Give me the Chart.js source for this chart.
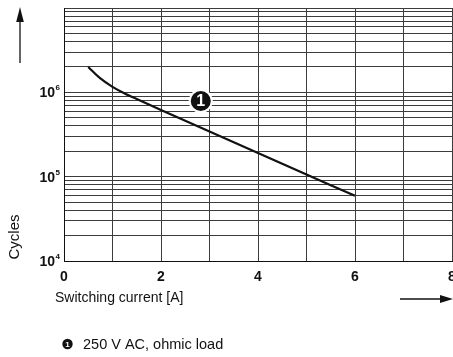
<!DOCTYPE html>
<html>
<head>
<meta charset="utf-8">
<script src="https://cdn.jsdelivr.net/npm/chart.js@4"></script>
<style>
  html, body { margin: 0; padding: 0; background: #fff; }
</style>
</head>
<body>
<canvas id="chart" width="453" height="357"></canvas>
<script>
// Curve 1: 250 V AC, ohmic load
const currentA = [0.5, 0.75, 1, 1.25, 1.5, 2, 3, 4, 5, 6];
const cycles = [2.0e6, 1.46e6, 1.16e6, 9.7e5, 8.35e5, 6.18e5, 3.44e5, 1.91e5, 1.06e5, 5.95e4];

// Axes
const xTickLabels = ['0', '2', '4', '6', '8'];
const yDecades = [4, 5, 6];            // labelled as 10^n
const yMultipliers = [1, 2, 3, 4, 5, 6, 7, 8, 9];
const yTop = 1e7;

// Callout on the curve and the legend below
const markerAt = [2.82, 7.9e5];
const markerText = '1';
const legendText = '250 V AC, ohmic load';
const xTitle = 'Switching current [A]';
const yTitle = 'Cycles';

const FONT = '"Liberation Sans", Arial, sans-serif';

// all the grid lines of the log axis, 1..9 per decade
const yTickValues = [];
yDecades.forEach(e => yMultipliers.forEach(m => yTickValues.push(m * Math.pow(10, e))));
yTickValues.push(yTop);

function numberDot(ctx, cx, cy, r, size, ring) {
  if (ring) {
    ctx.beginPath();
    ctx.arc(cx, cy, r + ring, 0, Math.PI * 2);
    ctx.fillStyle = '#fff';
    ctx.fill();
  }
  ctx.beginPath();
  ctx.arc(cx, cy, r, 0, Math.PI * 2);
  ctx.fillStyle = '#111';
  ctx.fill();
  ctx.fillStyle = '#fff';
  ctx.font = 'bold ' + size + 'px ' + FONT;
  ctx.textAlign = 'center';
  ctx.textBaseline = 'middle';
  ctx.fillText(markerText, cx, cy + 1);
}

// Text, arrows and callouts, placed from the chart's scales
const decorations = {
  id: 'decorations',
  afterDraw(chart) {
    const ctx = chart.ctx;
    const xs = chart.scales.x;
    const ys = chart.scales.y;
    const area = chart.chartArea;
    ctx.save();
    ctx.fillStyle = '#111';

    // y tick labels 10^n
    yDecades.forEach(e => {
      const py = ys.getPixelForValue(Math.pow(10, e));
      const sup = String(e);
      ctx.font = 'bold 8px ' + FONT;
      const supW = ctx.measureText(sup).width;
      const right = area.left - 4;
      ctx.textAlign = 'left';
      ctx.textBaseline = 'alphabetic';
      ctx.fillText(sup, right - supW, py - 2);
      ctx.font = 'bold 14px ' + FONT;
      ctx.textAlign = 'right';
      ctx.textBaseline = 'middle';
      ctx.fillText('10', right - supW - 0.5, py + 1);
    });

    // x tick labels
    ctx.font = 'bold 14px ' + FONT;
    ctx.textAlign = 'center';
    ctx.textBaseline = 'middle';
    xTickLabels.forEach(t => {
      ctx.fillText(t, xs.getPixelForValue(Number(t)), area.bottom + 16);
    });

    // axis titles
    ctx.font = '14px ' + FONT;
    ctx.textAlign = 'left';
    ctx.fillText(xTitle, 55, area.bottom + 37);
    ctx.save();
    ctx.translate(15, 237);
    ctx.rotate(-Math.PI / 2);
    ctx.font = '15px ' + FONT;
    ctx.textAlign = 'center';
    ctx.fillText(yTitle, 0, 0);
    ctx.restore();

    // arrows
    ctx.strokeStyle = '#111';
    ctx.lineWidth = 1.3;
    ctx.beginPath();
    ctx.moveTo(20, 63);
    ctx.lineTo(20, 20);
    ctx.stroke();
    ctx.beginPath();
    ctx.moveTo(20, 7);
    ctx.lineTo(16.2, 22);
    ctx.lineTo(23.8, 22);
    ctx.closePath();
    ctx.fill();

    const ay = area.bottom + 38;
    ctx.beginPath();
    ctx.moveTo(400, ay);
    ctx.lineTo(443, ay);
    ctx.stroke();
    ctx.beginPath();
    ctx.moveTo(453, ay);
    ctx.lineTo(440, ay - 4);
    ctx.lineTo(440, ay + 4);
    ctx.closePath();
    ctx.fill();

    // callout on the curve
    numberDot(ctx, xs.getPixelForValue(markerAt[0]), ys.getPixelForValue(markerAt[1]), 10, 16, 2);

    // legend line
    numberDot(ctx, 67.5, 344, 5.2, 8, 0);
    ctx.fillStyle = '#111';
    ctx.font = '14.5px ' + FONT;
    ctx.textAlign = 'left';
    ctx.textBaseline = 'middle';
    ctx.fillText(legendText, 83, 345);

    ctx.restore();
  }
};

const gridStyle = { color: '#3c3c3c', lineWidth: 1, drawTicks: false };

new Chart(document.getElementById('chart'), {
  type: 'line',
  data: {
    datasets: [{
      data: currentA.map((x, i) => ({ x: x, y: cycles[i] })),
      borderColor: '#111',
      borderWidth: 2.2,
      pointRadius: 0,
      tension: 0.4,
      fill: false
    }]
  },
  options: {
    responsive: false,
    animation: false,
    devicePixelRatio: 1,
    layout: { padding: { left: 64, top: 8, right: 1, bottom: 96 } },
    plugins: { legend: { display: false }, tooltip: { enabled: false } },
    scales: {
      x: {
        type: 'linear',
        min: 0,
        max: 8,
        ticks: { display: false, stepSize: 1 },
        grid: gridStyle,
        border: { color: '#111', width: 1 }
      },
      y: {
        type: 'logarithmic',
        min: 1e4,
        max: yTop,
        afterBuildTicks: scale => {
          scale.ticks = yTickValues.map(v => ({ value: v }));
        },
        ticks: { display: false },
        grid: gridStyle,
        border: { color: '#111', width: 1 }
      }
    }
  },
  plugins: [decorations]
});
</script>
</body>
</html>
